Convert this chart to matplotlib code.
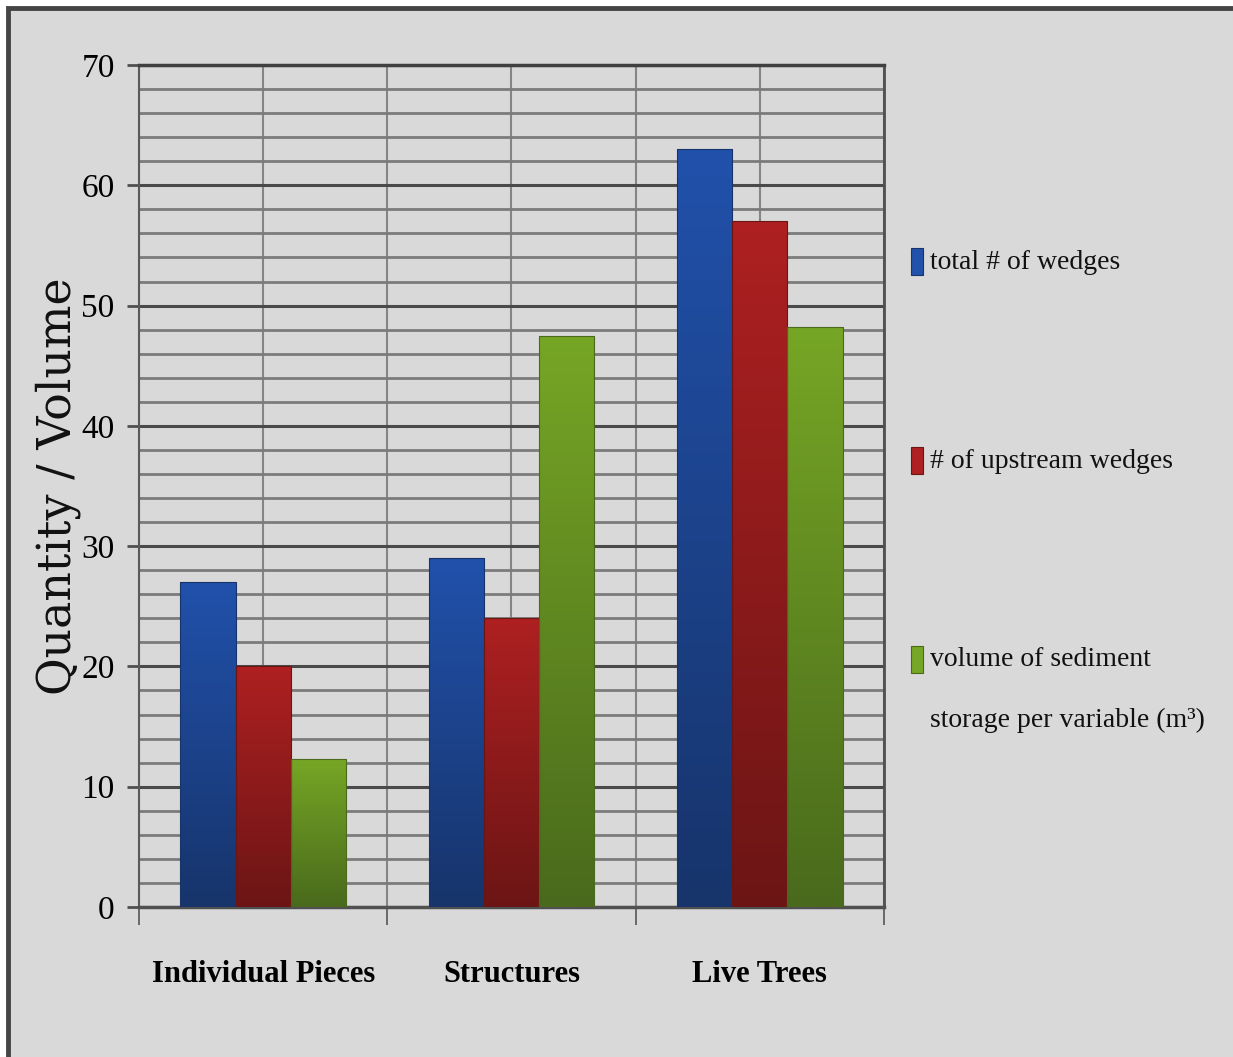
import numpy as np
import matplotlib.pyplot as plt
from matplotlib.colors import LinearSegmentedColormap
from matplotlib.patches import Rectangle

# Wedge counts and sediment volume by variable type
categories = ["Individual Pieces", "Structures", "Live Trees"]
total_wedges = [27, 29, 63]
upstream_wedges = [20, 24, 57]
sediment_volume = [12.3, 47.5, 48.2]
series_labels = ["total # of wedges", "# of upstream wedges",
                 "volume of sediment\nstorage per variable (m\u00b3)"]

# (top, bottom) colours for the vertical gradient on each series
shades = [("#2151ab", "#17346b"), ("#ae2021", "#6c1515"), ("#76a625", "#496a1c")]

bg = "#d9d9d9"
W, H = 1233, 1057
plt.rcParams["font.family"] = ["Liberation Serif", "DejaVu Serif"]

fig = plt.figure(figsize=(W / 100, H / 100), dpi=100, facecolor="white")
# grey panel with a dark frame along the top and left
fig.add_artist(Rectangle((7.5 / W, -0.05), 1.2, 1 - 8.5 / H + 0.05,
                         transform=fig.transFigure, facecolor=bg,
                         edgecolor="#454545", lw=3.5, zorder=-10))

ax = fig.add_axes([139 / W, 150 / H, 745 / W, 842 / H])
ax.set_facecolor(bg)

x = np.arange(len(categories))
w = 0.222
series = [total_wedges, upstream_wedges, sediment_volume]

for i, (vals, (top, bottom)) in enumerate(zip(series, shades)):
    bars = ax.bar(x + (i - 1) * w, vals, w, facecolor="none",
                  edgecolor=bottom, lw=0.8, zorder=3, label=series_labels[i])
    cmap = LinearSegmentedColormap.from_list("g%d" % i, [bottom, top])
    grad = np.linspace(0, 1, 256)[:, None]
    for b in bars:
        bx, by = b.get_xy()
        im = ax.imshow(grad, extent=(bx, bx + b.get_width(), by, by + b.get_height()),
                       origin="lower", cmap=cmap, aspect="auto", zorder=2.9,
                       interpolation="bilinear")
        im.set_clip_path(b)

ax.set_xlim(-0.5, len(categories) - 0.5)
ax.set_ylim(0, 70)

# y axis: labelled every 10, grid every 2
ax.set_yticks(range(0, 71, 10))
ax.set_yticks(range(0, 71, 2), minor=True)
ax.tick_params(axis="y", which="major", length=8.5, width=2, color="#505050",
               labelsize=24, pad=9)
ax.tick_params(axis="y", which="minor", length=0)
ax.grid(axis="y", which="minor", color="#7b7b7b", lw=2)
ax.grid(axis="y", which="major", color="#4a4a4a", lw=2.2)

# x axis: separators between groups, names under the group centres
ax.set_xticks(np.arange(len(categories) + 1) - 0.5)
ax.set_xticklabels([])
ax.set_xticks(x, minor=True)
ax.set_xticklabels(categories, minor=True, fontsize=22, fontweight="bold")
ax.tick_params(axis="x", which="major", length=13, width=1.2, color="#555555")
ax.tick_params(axis="x", which="minor", length=0, pad=38)
ax.grid(axis="x", which="both", color="#858585", lw=1.5)
ax.set_axisbelow(True)

for side, col, lw in [("left", "#5a5a5a", 1.5), ("bottom", "#505050", 2.5),
                      ("top", "#404040", 2.5), ("right", "#505050", 2)]:
    ax.spines[side].set_color(col)
    ax.spines[side].set_linewidth(lw)

fig.text(58 / W, 1 - 486 / H, "Quantity / Volume", rotation=90,
         ha="center", va="center", fontsize=33, family="DejaVu Serif", color="#111111")

# legend: small swatch beside the first line of each label, wide spacing
entry_y = [262, 461, 660]
line_gap = 60
for (top, bottom), label, yc in zip(shades, series_labels, entry_y):
    fig.add_artist(Rectangle((911 / W, 1 - (yc + 13) / H), 12 / W, 27 / H,
                             transform=fig.transFigure, facecolor=top,
                             edgecolor=bottom, lw=0.8))
    for k, line in enumerate(label.split("\n")):
        fig.text(930 / W, 1 - (yc + k * line_gap) / H, line, ha="left",
                 va="center", fontsize=20, color="#111111")

fig.savefig("out.png", dpi=100, facecolor=fig.get_facecolor())
